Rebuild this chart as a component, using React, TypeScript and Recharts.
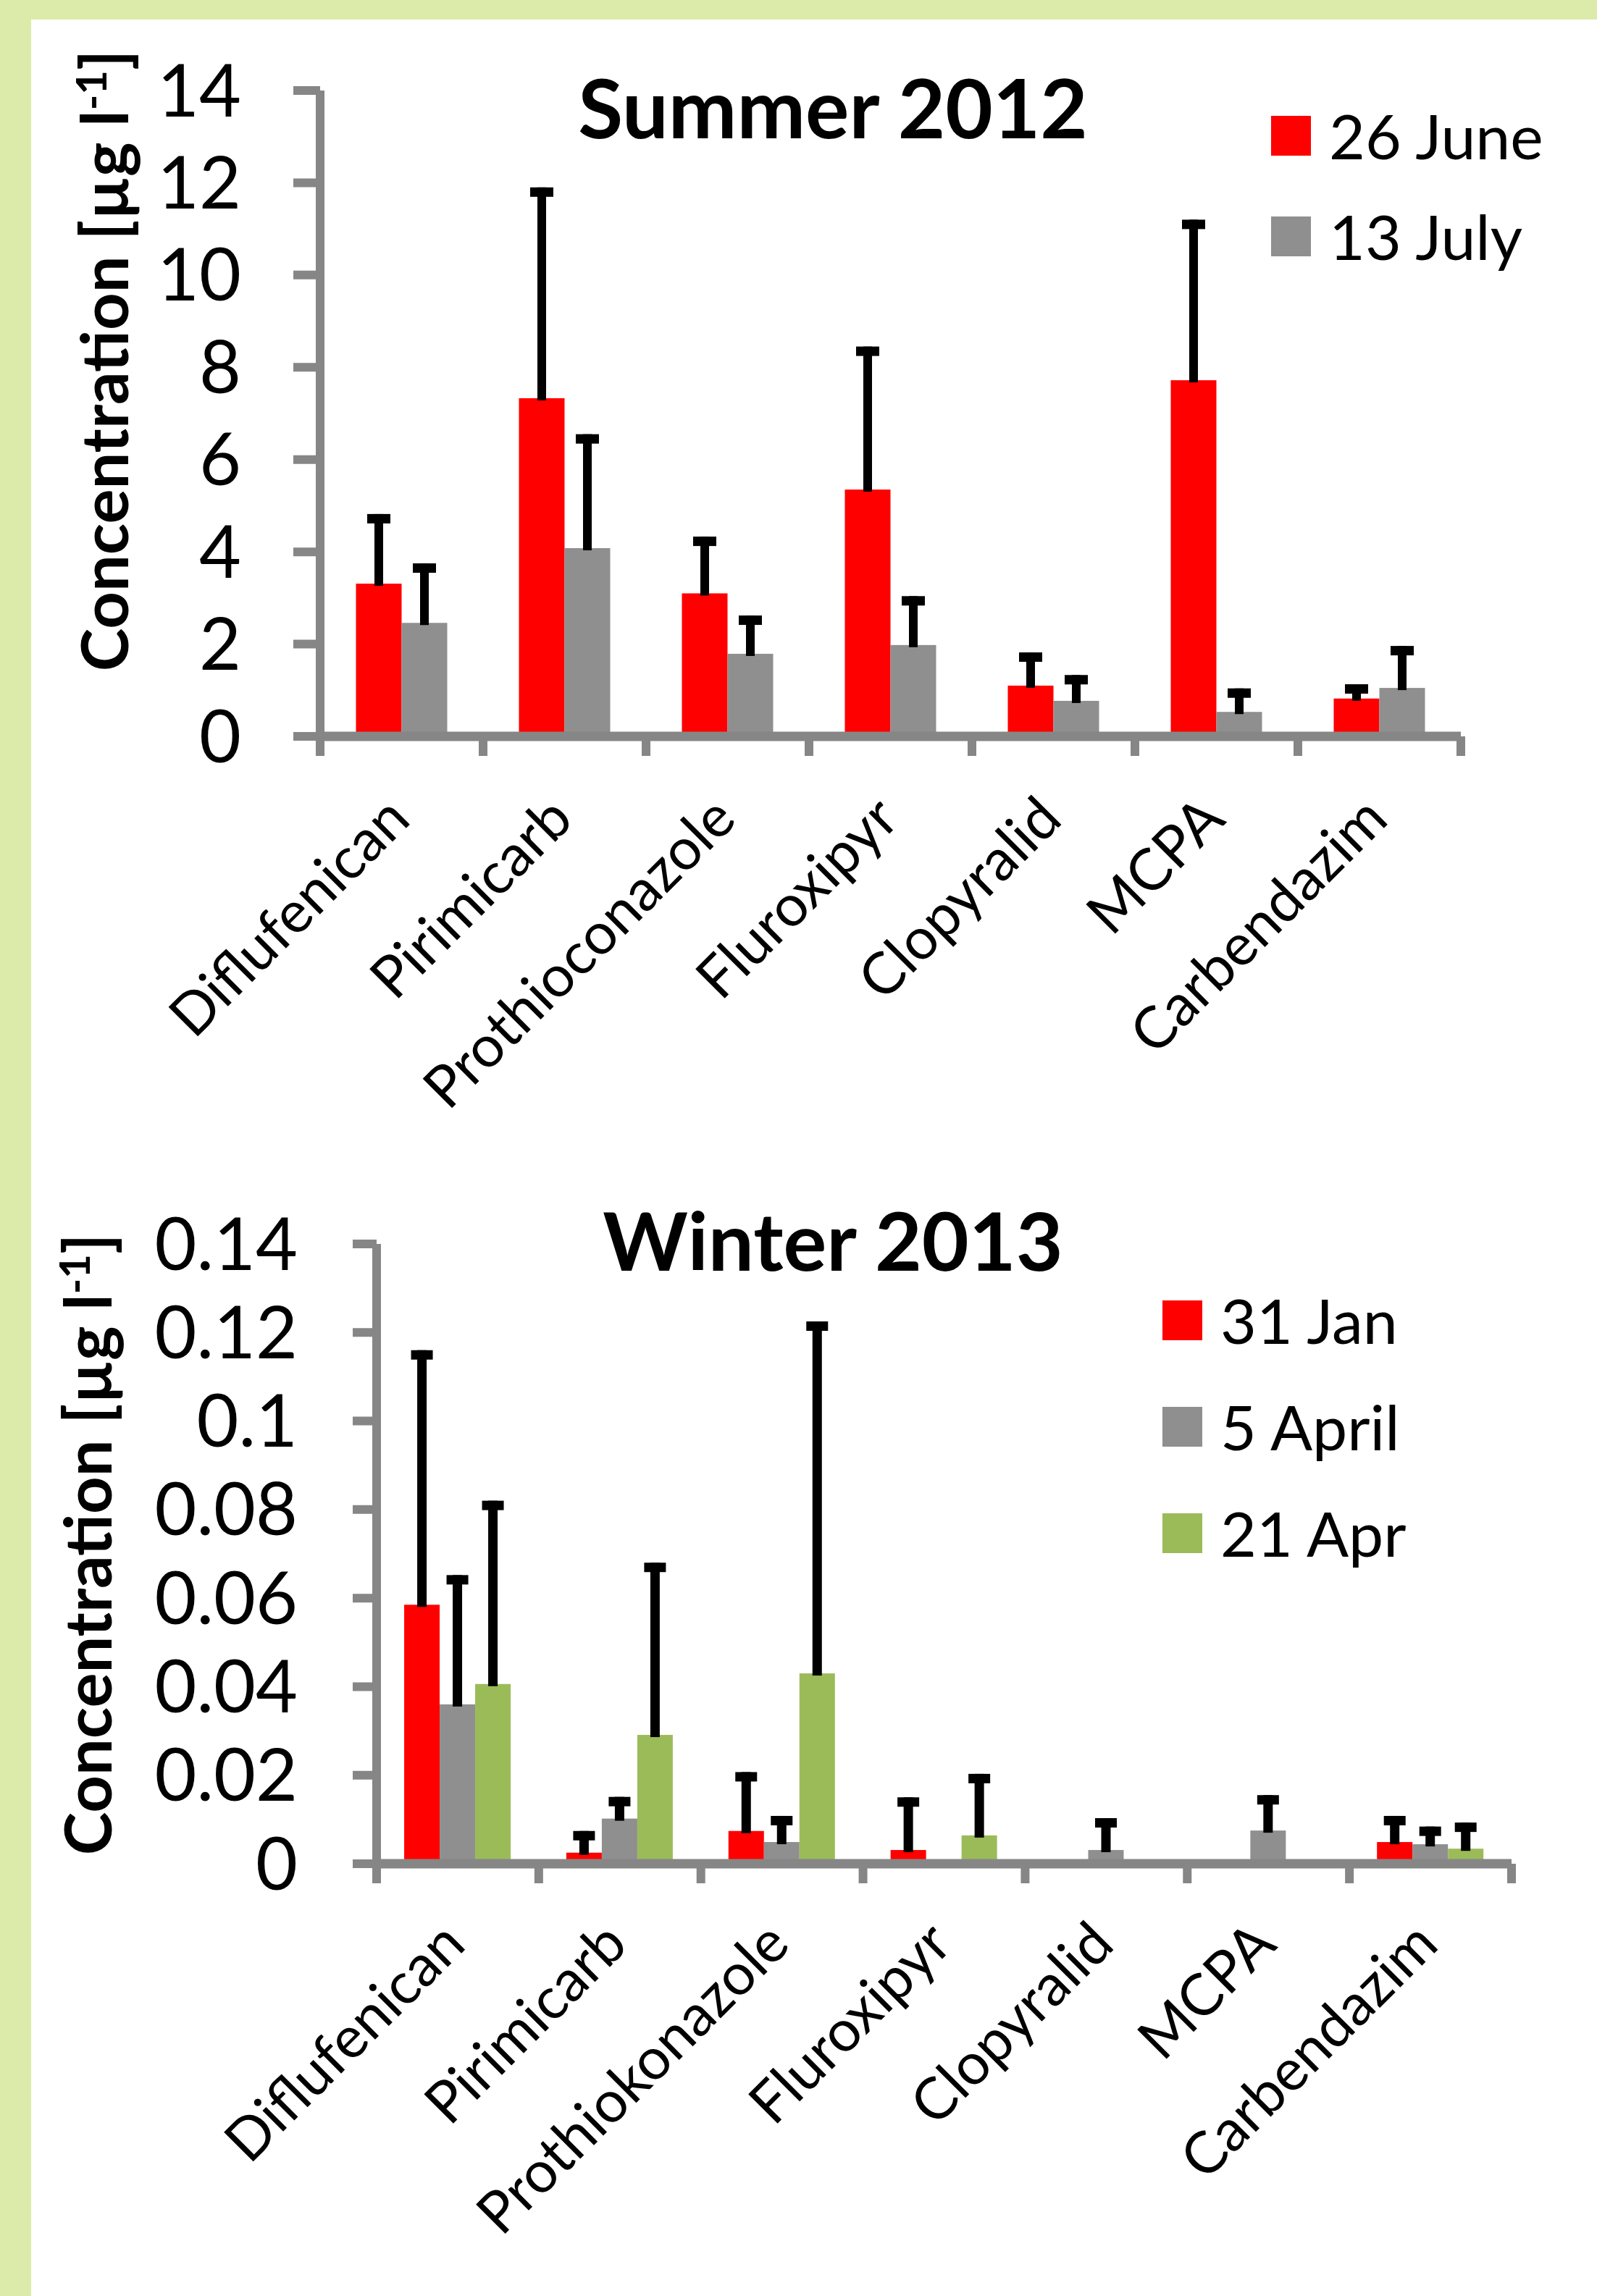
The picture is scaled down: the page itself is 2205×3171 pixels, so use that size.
import { Bar, BarChart, Legend, XAxis, YAxis } from 'recharts'

const FONT = 'Lato, "Open Sans", sans-serif'
const AXIS = '#868686'
const RED = '#ff0000'
const GREY = '#8f8f8f'
const GREEN = '#9bbb59'

// Summer 2012
const summerCategories = ['Diflufenican', 'Pirimicarb', 'Prothioconazole', 'Fluroxipyr', 'Clopyralid', 'MCPA', 'Carbendazim']
const june26 = [3.31, 7.33, 3.1, 5.35, 1.1, 7.72, 0.82]
const june26Err = [1.51, 4.57, 1.23, 3.1, 0.72, 3.48, 0.31]
const july13 = [2.46, 4.08, 1.79, 1.98, 0.77, 0.53, 1.05]
const july13Err = [1.29, 2.47, 0.83, 1.06, 0.56, 0.51, 0.91]
const summerTicks = [0, 2, 4, 6, 8, 10, 12, 14]
const summerSeries = ['26 June', '13 July']

// Winter 2013
const winterCategories = ['Diflufenican', 'Pirimicarb', 'Prothiokonazole', 'Fluroxipyr', 'Clopyralid', 'MCPA', 'Carbendazim']
const jan31 = [0.0585, 0.0025, 0.0074, 0.0031, 0, 0, 0.0049]
const jan31Err = [0.0575, 0.0049, 0.0133, 0.0119, 0, 0, 0.0059]
const april5 = [0.036, 0.0102, 0.0049, 0, 0.0031, 0.0075, 0.0044]
const april5Err = [0.0292, 0.0049, 0.0059, 0, 0.0072, 0.008, 0.004]
const april21 = [0.0406, 0.0291, 0.043, 0.0064, 0, 0, 0.0034]
const april21Err = [0.0414, 0.0389, 0.0795, 0.0139, 0, 0, 0.0059]
const winterTicks = [0, 0.02, 0.04, 0.06, 0.08, 0.1, 0.12, 0.14]
const winterSeries = ['31 Jan', '5 April', '21 Apr']

const summerData = summerCategories.map((name, i) => ({
  name,
  june: june26[i],
  juneErr: june26Err[i],
  july: july13[i],
  julyErr: july13Err[i],
}))

const winterData = winterCategories.map((name, i) => ({
  name,
  jan: jan31[i],
  janErr: jan31Err[i],
  apr5: april5[i],
  apr5Err: april5Err[i],
  apr21: april21[i],
  apr21Err: april21Err[i],
}))

// bar + upward-only error bar (Excel "plus" style)
function errorBarShape(valueKey: string, errKey: string, capWidth: number, stemWidth: number) {
  return (props: any) => {
    const { x, y, width, height, fill, payload } = props
    const value = payload[valueKey]
    const err = payload[errKey]
    const cx = x + width / 2
    let whisker = null
    if (value > 0 && err > 0 && height > 0) {
      const top = y - (err * height) / value
      whisker = (
        <g>
          <rect x={cx - stemWidth / 2} y={top} width={stemWidth} height={y - top + 3} fill="#000" />
          <rect x={cx - capWidth / 2} y={top} width={capWidth} height={13} fill="#000" />
        </g>
      )
    }
    return (
      <g>
        <rect x={x} y={y} width={width} height={Math.max(height, 0)} fill={fill} />
        {whisker}
      </g>
    )
  }
}

function categoryTick(lastName: string, dx: number, dy: number) {
  return (props: any) => {
    const { x, y, payload } = props
    const half = payload.offset || 0
    const ax = x + dx
    const ay = y + dy
    return (
      <g>
        <line x1={x - half} x2={x - half} y1={y} y2={y + 27} stroke={AXIS} strokeWidth={12} />
        {payload.value === lastName && <line x1={x + half} x2={x + half} y1={y} y2={y + 27} stroke={AXIS} strokeWidth={12} />}
        <text x={ax} y={ay} transform={`rotate(-45 ${ax} ${ay})`} textAnchor="end" fontSize={80} fontFamily={FONT} fill="#000">
          {payload.value}
        </text>
      </g>
    )
  }
}

function axisTitle(bx: number, cy: number) {
  return () => (
    <text x={bx} y={cy} transform={`rotate(-90 ${bx} ${cy})`} textAnchor="middle" fontSize={90} fontWeight={700} fontFamily={FONT} fill="#000">
      Concentration [µg l
      <tspan dy={-30} fontSize={58}>-1</tspan>
      <tspan dy={30}>]</tspan>
    </text>
  )
}

function legendContent(order: string[], gap: number) {
  return (props: any) => {
    const items = [...(props.payload || [])].sort((a: any, b: any) => order.indexOf(a.value) - order.indexOf(b.value))
    return (
      <div>
        {items.map((p: any) => (
          <div key={p.value} style={{ display: 'flex', alignItems: 'center', height: 56, marginBottom: gap }}>
            <div style={{ width: 55, height: 55, background: p.color }} />
            <span style={{ marginLeft: 25, fontSize: 86, lineHeight: 1, fontFamily: FONT, color: '#000', whiteSpace: 'nowrap' }}>{p.value}</span>
          </div>
        ))}
      </div>
    )
  }
}

const tickStyle = { fill: '#000', fontSize: 100, fontFamily: FONT }

export default function App() {
  return (
    <div style={{ position: 'relative', width: 2205, height: 3171, background: '#dcebaa', overflow: 'hidden' }}>
      <style>{'body{margin:0}'}</style>
      <div style={{ position: 'absolute', left: 43, top: 27, right: 0, bottom: 0, background: '#fff' }} />

      <div style={{ position: 'absolute', left: 0, top: 0 }}>
        <BarChart width={2205} height={1580} data={summerData} margin={{ top: 125, right: 188, bottom: 533, left: 0 }} barGap={0} barCategoryGap="22%">
          <YAxis
            width={442}
            domain={[0, 14]}
            ticks={summerTicks}
            interval={0}
            tick={tickStyle}
            tickSize={37}
            tickMargin={72}
            tickLine={{ stroke: AXIS, strokeWidth: 12 }}
            axisLine={{ stroke: AXIS, strokeWidth: 12 }}
            label={{ content: axisTitle(177, 498) }}
          />
          <XAxis
            dataKey="name"
            interval={0}
            height={30}
            tickSize={0}
            tickMargin={0}
            tickLine={false}
            axisLine={{ stroke: AXIS, strokeWidth: 13 }}
            tick={categoryTick('Carbendazim', 15, 118)}
          />
          <Legend
            layout="vertical"
            align="center"
            verticalAlign="middle"
            itemSorter={null}
            wrapperStyle={{ left: 1755, top: 159, width: 420 }}
            content={legendContent(summerSeries, 83)}
          />
          <Bar dataKey="june" name={summerSeries[0]} fill={RED} isAnimationActive={false} shape={errorBarShape('june', 'juneErr', 32, 12)} />
          <Bar dataKey="july" name={summerSeries[1]} fill={GREY} isAnimationActive={false} shape={errorBarShape('july', 'julyErr', 32, 12)} />
        </BarChart>
      </div>

      <div style={{ position: 'absolute', left: 0, top: 1580 }}>
        <BarChart width={2205} height={1591} data={winterData} margin={{ top: 138, right: 118, bottom: 567, left: 0 }} barGap={0} barCategoryGap="17%">
          <YAxis
            width={520}
            domain={[0, 0.14]}
            ticks={winterTicks}
            interval={0}
            tick={tickStyle}
            tickSize={33}
            tickMargin={76}
            tickLine={{ stroke: AXIS, strokeWidth: 12 }}
            axisLine={{ stroke: AXIS, strokeWidth: 12 }}
            label={{ content: axisTitle(154, 553) }}
          />
          <XAxis
            dataKey="name"
            interval={0}
            height={30}
            tickSize={0}
            tickMargin={0}
            tickLine={false}
            axisLine={{ stroke: AXIS, strokeWidth: 13 }}
            tick={categoryTick('Carbendazim', 14, 115)}
          />
          <Legend
            layout="vertical"
            align="center"
            verticalAlign="middle"
            itemSorter={null}
            wrapperStyle={{ left: 1605, top: 215, width: 420 }}
            content={legendContent(winterSeries, 91)}
          />
          <Bar dataKey="jan" name={winterSeries[0]} fill={RED} isAnimationActive={false} shape={errorBarShape('jan', 'janErr', 30, 13)} />
          <Bar dataKey="apr5" name={winterSeries[1]} fill={GREY} isAnimationActive={false} shape={errorBarShape('apr5', 'apr5Err', 30, 13)} />
          <Bar dataKey="apr21" name={winterSeries[2]} fill={GREEN} isAnimationActive={false} shape={errorBarShape('apr21', 'apr21Err', 30, 13)} />
        </BarChart>
      </div>

      <svg width={2205} height={3171} style={{ position: 'absolute', left: 0, top: 0, pointerEvents: 'none' }}>
        <text x={1150} y={191} textAnchor="middle" fontSize={113} fontWeight={700} fontFamily={FONT} fill="#000">
          Summer 2012
        </text>
        <text x={1150} y={1755} textAnchor="middle" fontSize={112} fontWeight={700} fontFamily={FONT} fill="#000">
          Winter 2013
        </text>
      </svg>
    </div>
  )
}
